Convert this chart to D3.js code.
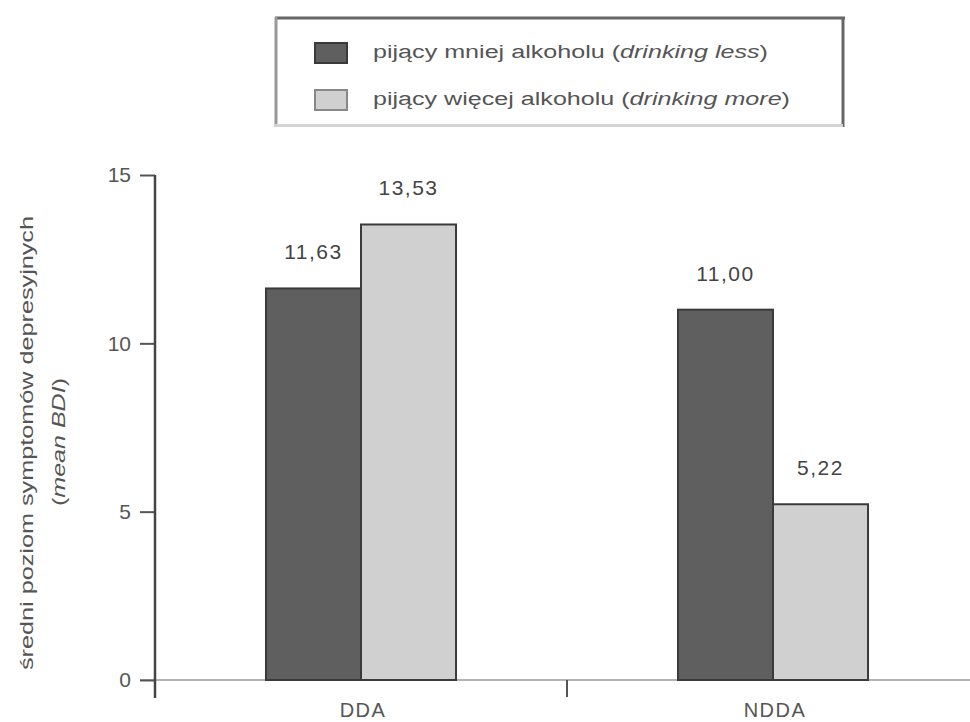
<!DOCTYPE html>
<html>
<head>
<meta charset="utf-8">
<script src="https://cdn.jsdelivr.net/npm/d3@7"></script>
<style>
  html, body { margin: 0; padding: 0; background: #fff; }
  text { font-family: "Liberation Sans", Arial, sans-serif; }
</style>
</head>
<body>
<svg id="chart" width="970" height="722"></svg>
<script>
const categories = ["DDA", "NDDA"];
const seriesNames = ["pijący mniej alkoholu", "pijący więcej alkoholu"];
const seriesEnglish = ["drinking less", "drinking more"];
const drinkingLess = [11.63, 11.00];
const drinkingMore = [13.53, 5.22];
const valueLabels = [["11,63", "11,00"], ["13,53", "5,22"]];
const yTicks = [0, 5, 10, 15];
const yTitle = "średni poziom symptomów depresyjnych";
const yTitleEnglish = "mean BDI";

const series = [drinkingLess, drinkingMore];
const colors = ["#5f5f5f", "#d0d0d0"];

const svg = d3.select("#chart");

const y = d3.scaleLinear().domain([0, 15]).range([680, 175]);
const x = d3.scaleBand().domain(categories).range([155, 979]).padding(0);
const xs = d3.scaleBand().domain([0, 1]).range([0, x.bandwidth()]).paddingInner(0).paddingOuter(1.168);

// x axis baseline
svg.append("line").attr("x1", 140).attr("x2", 970).attr("y1", y(0)).attr("y2", y(0))
  .attr("stroke", "#b4b4b4").attr("stroke-width", 2);

// bars
series.forEach((vals, si) => {
  const g = svg.append("g");
  g.selectAll("rect").data(vals).join("rect")
    .attr("x", (d, i) => x(categories[i]) + xs(si))
    .attr("y", d => y(d))
    .attr("width", xs.bandwidth())
    .attr("height", d => y(0) - y(d))
    .attr("fill", colors[si])
    .attr("stroke", "#3a3a3a")
    .attr("stroke-width", 2);
  g.selectAll("text").data(vals).join("text")
    .attr("x", (d, i) => x(categories[i]) + xs(si) + xs.bandwidth() / 2)
    .attr("y", d => y(d) - 29)
    .attr("text-anchor", "middle")
    .attr("font-size", 21)
    .attr("letter-spacing", 1.5)
    .attr("fill", "#444")
    .text((d, i) => valueLabels[si][i]);
});

// y axis
const yAxis = d3.axisLeft(y).tickValues(yTicks).tickSize(15).tickPadding(9).tickFormat(d3.format("d"));
const ya = svg.append("g").attr("transform", "translate(155,0)").call(yAxis);
ya.select(".domain").remove();
ya.selectAll(".tick line").attr("stroke", "#555").attr("stroke-width", 2);
ya.selectAll(".tick text").attr("font-size", 21).attr("fill", "#555")
  .style("font-family", '"Liberation Sans", Arial, sans-serif');
svg.append("line").attr("x1", 155).attr("x2", 155).attr("y1", y(15)).attr("y2", 698)
  .attr("stroke", "#444").attr("stroke-width", 2.5);

// category separator tick
svg.append("line").attr("x1", x("NDDA")).attr("x2", x("NDDA")).attr("y1", y(0)).attr("y2", 697)
  .attr("stroke", "#555").attr("stroke-width", 2);

// category labels
svg.selectAll(".cat").data(categories).join("text").attr("class", "cat")
  .attr("x", d => x(d) + x.bandwidth() / 2 + 2)
  .attr("y", 717)
  .attr("text-anchor", "middle")
  .attr("font-size", 20)
  .attr("letter-spacing", 1.5)
  .attr("fill", "#555")
  .text(d => d);

// y title
const t1 = svg.append("text")
  .attr("transform", "translate(28,443) rotate(-90)")
  .attr("text-anchor", "middle").attr("dominant-baseline", "middle")
  .attr("font-size", 18).attr("fill", "#555")
  .attr("textLength", 454).attr("lengthAdjust", "spacingAndGlyphs")
  .text(yTitle);
const t2 = svg.append("text")
  .attr("transform", "translate(60,442) rotate(-90)")
  .attr("text-anchor", "middle").attr("dominant-baseline", "middle")
  .attr("font-size", 18).attr("fill", "#555")
  .attr("textLength", 128).attr("lengthAdjust", "spacingAndGlyphs");
t2.append("tspan").text("(");
t2.append("tspan").attr("font-style", "italic").text(yTitleEnglish);
t2.append("tspan").text(")");

// legend box
const lg = svg.append("g");
lg.append("rect").attr("x", 275).attr("y", 17).attr("width", 568).attr("height", 109).attr("fill", "#fff");
lg.append("line").attr("x1", 275).attr("x2", 845).attr("y1", 18).attr("y2", 18).attr("stroke", "#666").attr("stroke-width", 3);
lg.append("line").attr("x1", 843).attr("x2", 843).attr("y1", 17).attr("y2", 127).attr("stroke", "#666").attr("stroke-width", 3);
lg.append("line").attr("x1", 276).attr("x2", 276).attr("y1", 17).attr("y2", 127).attr("stroke", "#999").attr("stroke-width", 3);
lg.append("line").attr("x1", 275).attr("x2", 843).attr("y1", 125.5).attr("y2", 125.5).attr("stroke", "#d4d4d4").attr("stroke-width", 3);

const legendY = [53, 100];
const legendLen = [395, 417];
seriesNames.forEach((name, i) => {
  lg.append("rect").attr("x", 315).attr("y", legendY[i] - 10).attr("width", 32).attr("height", 20)
    .attr("fill", colors[i]).attr("stroke", i === 0 ? "#3a3a3a" : "#888").attr("stroke-width", 2);
  const t = lg.append("text").attr("x", 373).attr("y", legendY[i])
    .attr("dominant-baseline", "middle")
    .attr("font-size", 18).attr("fill", "#555")
    .attr("textLength", legendLen[i]).attr("lengthAdjust", "spacingAndGlyphs");
  t.append("tspan").text(name + " (");
  t.append("tspan").attr("font-style", "italic").text(seriesEnglish[i]);
  t.append("tspan").text(")");
});
</script>
</body>
</html>
